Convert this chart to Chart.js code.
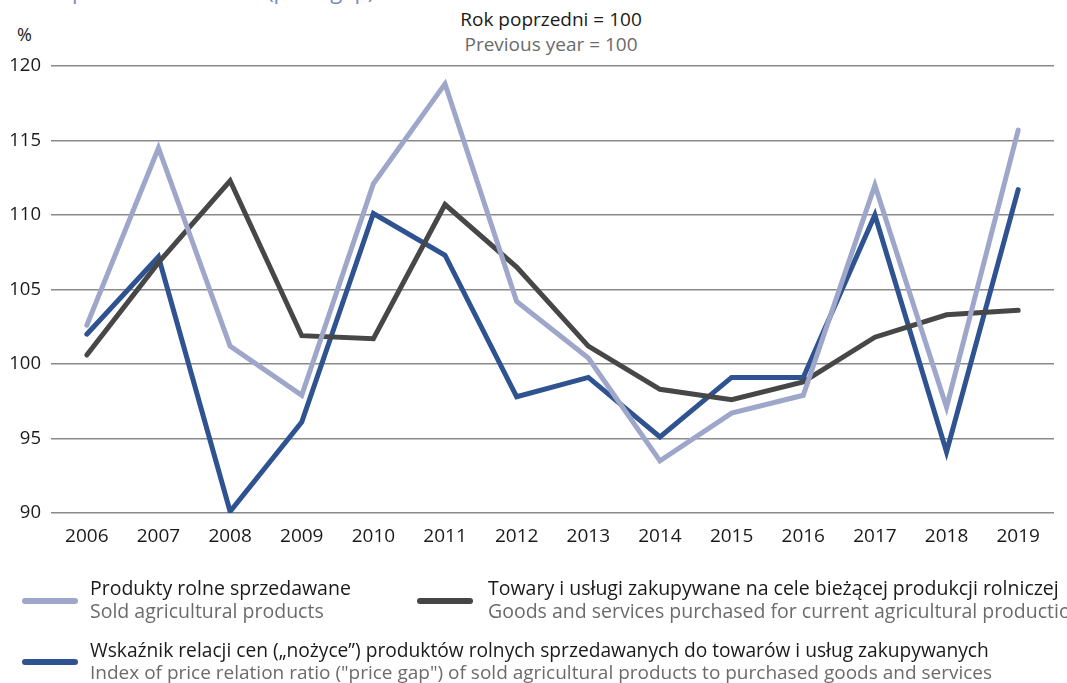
<!DOCTYPE html>
<html>
<head>
<meta charset="utf-8">
<script src="https://cdn.jsdelivr.net/npm/chart.js@4"></script>
<style>
  html, body { margin:0; padding:0; background:#fff; }
  body { width:1067px; height:683px; position:relative; overflow:hidden; font-family: "Open Sans", "Noto Sans", sans-serif; }
  #wrap { position:absolute; left:0; top:0; width:1067px; height:683px; }
  .t { position:absolute; white-space:nowrap; line-height:1; }
  .pl { color:#1a1a1a; }
  .en { color:#6b6b6b; }
  .sw { position:absolute; height:6px; border-radius:3px; }
</style>
</head>
<body>
<div class="t" style="left:72px; top:-21px; font-size:22px; color:#7d88bf;">price relation ratio (price gap)</div>
<div class="t pl" style="left:0; width:1102px; text-align:center; top:10px; font-size:19px;">Rok poprzedni = 100</div>
<div class="t en" style="left:0; width:1102px; text-align:center; top:35px; font-size:19px;">Previous year = 100</div>
<div class="t pl" style="left:17px; top:25px; font-size:18px;">%</div>
<div id="wrap"><canvas id="c" width="1067" height="683"></canvas></div>

<div class="sw" style="left:22px; top:598px; width:56px; background:#9ea7c9;"></div>
<div class="t pl" style="left:90px; top:578px; font-size:19.5px;">Produkty rolne sprzedawane</div>
<div class="t en" style="left:90px; top:601px; font-size:19.5px;">Sold agricultural products</div>

<div class="sw" style="left:417px; top:598px; width:56px; background:#454545;"></div>
<div class="t pl" style="left:488px; top:578px; font-size:19.5px;">Towary i usługi zakupywane na cele bieżącej produkcji rolniczej</div>
<div class="t en" style="left:488px; top:601px; font-size:19.5px;">Goods and services purchased for current agricultural production</div>

<div class="sw" style="left:22px; top:659px; width:56px; background:#2f5391;"></div>
<div class="t pl" style="left:90px; top:640px; font-size:19.2px;">Wskaźnik relacji cen („nożyce”) produktów rolnych sprzedawanych do towarów i usług zakupywanych</div>
<div class="t en" style="left:90px; top:663px; font-size:19px;">Index of price relation ratio ("price gap") of sold agricultural products to purchased goods and services</div>

<script>
const years = ['2006','2007','2008','2009','2010','2011','2012','2013','2014','2015','2016','2017','2018','2019'];
const soldProducts = [102.6, 114.5, 101.2, 97.9, 112.1, 118.8, 104.2, 100.4, 93.5, 96.7, 97.9, 112.0, 97.1, 115.7];
const purchasedGoods = [100.6, 106.8, 112.3, 101.9, 101.7, 110.7, 106.5, 101.2, 98.3, 97.6, 98.8, 101.8, 103.3, 103.6];
const priceGap = [102.0, 107.2, 90.1, 96.1, 110.1, 107.3, 97.8, 99.1, 95.1, 99.1, 99.1, 110.0, 94.1, 111.7];
const yTicks = [90, 95, 100, 105, 110, 115, 120];

const ds = (label, data, color) => ({
  label, data, borderColor: color, backgroundColor: color,
  borderWidth: 5, pointRadius: 0, pointHoverRadius: 0, tension: 0,
  borderCapStyle: 'round', borderJoinStyle: 'miter', fill: false
});

new Chart(document.getElementById('c'), {
  type: 'line',
  data: {
    labels: years,
    datasets: [
      ds('Produkty rolne sprzedawane', soldProducts, '#9ea7c9'),
      ds('Towary i usługi zakupywane', purchasedGoods, '#474747'),
      ds('Wskaźnik relacji cen', priceGap, '#2f5391')
    ]
  },
  options: {
    responsive: false,
    animation: false,
    events: [],
    layout: { padding: { left: 0, top: 66, right: 13, bottom: 130 } },
    plugins: { legend: { display: false }, tooltip: { enabled: false }, title: { display: false } },
    scales: {
      x: {
        offset: true,
        grid: { display: false, drawTicks: false },
        border: { display: false },
        ticks: { color: '#1a1a1a', font: { family: 'Open Sans', size: 19 }, padding: 12, maxRotation: 0, autoSkip: false },
        afterFit: s => { s.height = 40; }
      },
      y: {
        min: 90, max: 120,
        afterBuildTicks: s => { s.ticks = yTicks.map(v => ({ value: v })); },
        grid: { color: '#8a8a8a', lineWidth: 1.5, drawTicks: false },
        border: { display: false },
        ticks: { color: '#1a1a1a', font: { family: 'Open Sans', size: 18.5 }, padding: 10 },
        afterFit: s => { s.width = 51; }
      }
    }
  }
});
</script>
</body>
</html>
